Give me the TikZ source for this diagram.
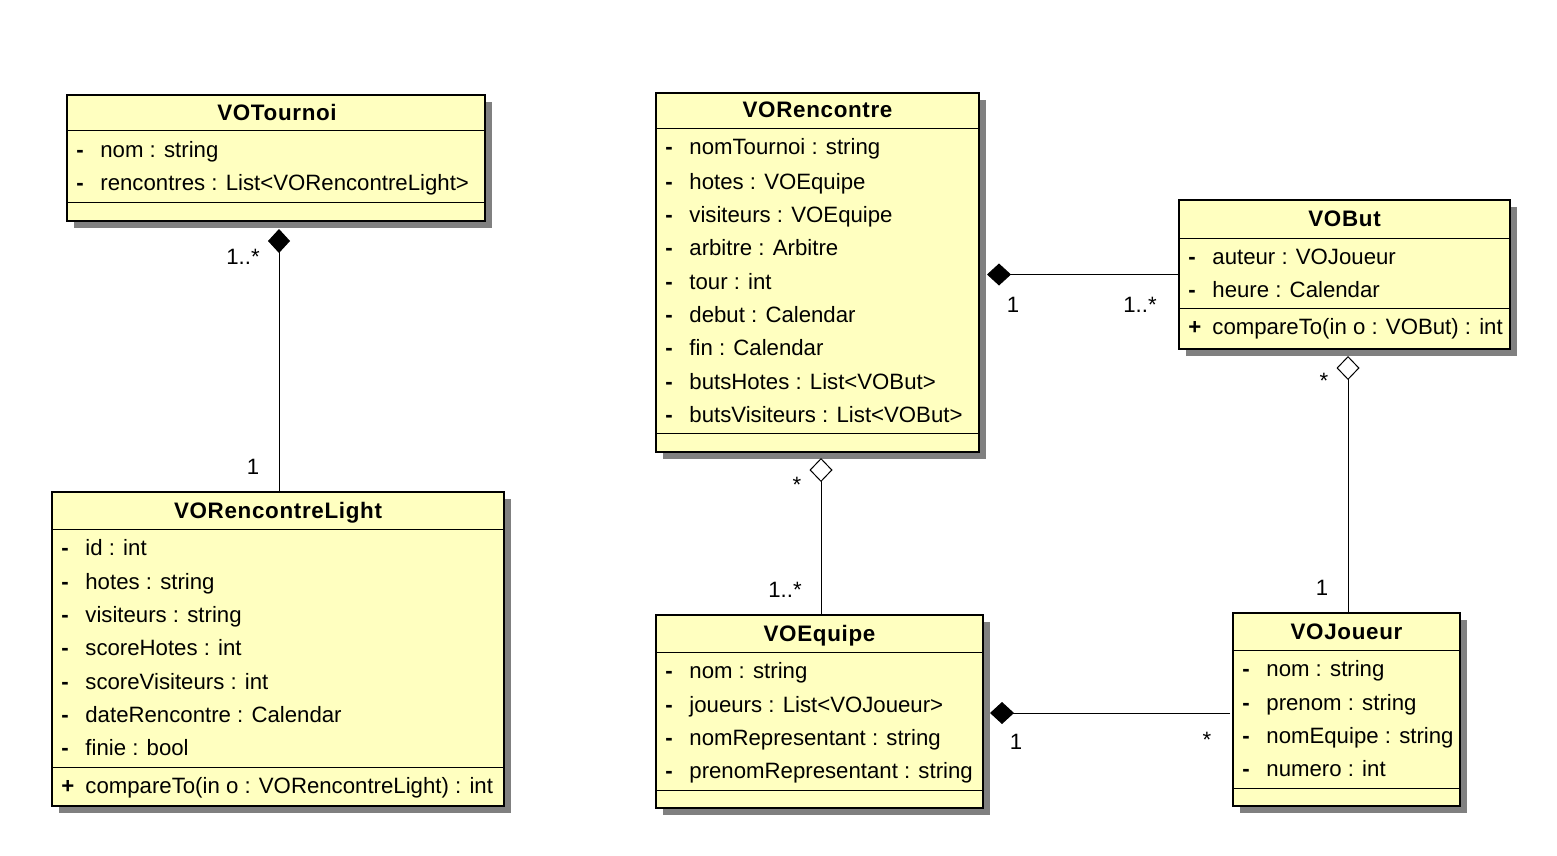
\documentclass[tikz,border=0pt]{standalone}
\usepackage{fontspec}
\setmainfont{Liberation Sans}
\usetikzlibrary{shadows,arrows.meta}
\definecolor{classfill}{RGB}{255,255,192}
\definecolor{shadowgray}{RGB}{128,128,128}
\tikzset{x=0.5pt,y=-0.5pt,
 classbox/.style={draw=black, line width=0.7pt, fill=classfill, anchor=north west, inner sep=0pt, outer sep=0pt,
   drop shadow={shadow xshift=3.5pt, shadow yshift=-3.5pt, fill=shadowgray, opacity=1}},
 ctitle/.style={font=\fontsize{11.2}{13}\selectfont\bfseries\addfontfeature{LetterSpace=3}, inner sep=0pt, anchor=base},
 attr/.style={font=\fontsize{11.1}{13}\selectfont, anchor=base west, inner sep=0pt},
 vis/.style={font=\fontsize{11.1}{13}\selectfont\bfseries, anchor=base west, inner sep=0pt},
 mult/.style={font=\fontsize{11.1}{13}\selectfont, inner sep=0pt},
 sepline/.style={line width=0.5pt},
 comp/.style={line width=0.5pt, -{Diamond[fill=black, length=12pt, width=11pt]}},
 aggr/.style={line width=0.5pt, -{Diamond[open, fill=white, length=12pt, width=11.5pt]}}
}
\newcommand\umlattr[5]{%
  \node[vis] (#1m) at (#2+9,#3+7) {#4};
  \node[attr] (#1) at (#2+33,#3+7) {#5};}
\begin{document}
\begin{tikzpicture}
\useasboundingbox (0,0) rectangle (1557,856);

% VOTournoi
\node[classbox, minimum width=209pt, minimum height=63pt] (T) at (67,95) {};
\node[ctitle] (Tt) at (277,120) {VOTournoi};
\draw[sepline] (67,131) -- (485,131);
\umlattr{Ta}{67}{150}{-}{nom : string}
\umlattr{Tb}{67}{184}{-}{rencontres : List<VORencontreLight>}
\draw[sepline] (67,202) -- (485,202);

% VORencontreLight
\node[classbox, minimum width=226pt, minimum height=157pt] (L) at (52,492) {};
\node[ctitle] (Lt) at (278,518) {VORencontreLight};
\draw[sepline] (52,529) -- (504,529);
\umlattr{La}{52}{548}{-}{id : int}
\umlattr{Lb}{52}{582}{-}{hotes : string}
\umlattr{Lc}{52}{615}{-}{visiteurs : string}
\umlattr{Ld}{52}{648}{-}{scoreHotes : int}
\umlattr{Le}{52}{682}{-}{scoreVisiteurs : int}
\umlattr{Lf}{52}{715}{-}{dateRencontre : Calendar}
\umlattr{Lg}{52}{748}{-}{finie : bool}
\draw[sepline] (52,767) -- (504,767);
\umlattr{Lh}{52}{786}{+}{compareTo(in o : VORencontreLight) : int}

% VORencontre
\node[classbox, minimum width=161.5pt, minimum height=179.5pt] (R) at (656,93) {};
\node[ctitle] (Rt) at (817.5,118) {VORencontre};
\draw[sepline] (656,129) -- (979,129);
\umlattr{Ra}{656}{148}{-}{nomTournoi : string}
\umlattr{Rb}{656}{182}{-}{hotes : VOEquipe}
\umlattr{Rc}{656}{215}{-}{visiteurs : VOEquipe}
\umlattr{Rd}{656}{248}{-}{arbitre : Arbitre}
\umlattr{Re}{656}{282}{-}{tour : int}
\umlattr{Rf}{656}{315}{-}{debut : Calendar}
\umlattr{Rg}{656}{348}{-}{fin : Calendar}
\umlattr{Rh}{656}{382}{-}{butsHotes : List<VOBut>}
\umlattr{Ri}{656}{415}{-}{butsVisiteurs : List<VOBut>}
\draw[sepline] (656,433) -- (979,433);

% VOBut
\node[classbox, minimum width=165.5pt, minimum height=74.5pt] (B) at (1179,200) {};
\node[ctitle] (Bt) at (1344.5,226) {VOBut};
\draw[sepline] (1179,238) -- (1510,238);
\umlattr{Ba}{1179}{257}{-}{auteur : VOJoueur}
\umlattr{Bb}{1179}{290}{-}{heure : Calendar}
\draw[sepline] (1179,308) -- (1510,308);
\umlattr{Bc}{1179}{327}{+}{compareTo(in o : VOBut) : int}

% VOEquipe
\node[classbox, minimum width=163.5pt, minimum height=96.5pt] (E) at (656,615) {};
\node[ctitle] (Et) at (819.5,641) {VOEquipe};
\draw[sepline] (656,652) -- (983,652);
\umlattr{Ea}{656}{671}{-}{nom : string}
\umlattr{Eb}{656}{705}{-}{joueurs : List<VOJoueur>}
\umlattr{Ec}{656}{738}{-}{nomRepresentant : string}
\umlattr{Ed}{656}{771}{-}{prenomRepresentant : string}
\draw[sepline] (656,790) -- (983,790);

% VOJoueur
\node[classbox, minimum width=113.5pt, minimum height=96.5pt] (J) at (1233,613) {};
\node[ctitle] (Jt) at (1346.5,639) {VOJoueur};
\draw[sepline] (1233,650) -- (1460,650);
\umlattr{Ja}{1233}{669}{-}{nom : string}
\umlattr{Jb}{1233}{703}{-}{prenom : string}
\umlattr{Jc}{1233}{736}{-}{nomEquipe : string}
\umlattr{Jd}{1233}{769}{-}{numero : int}
\draw[sepline] (1233,788) -- (1460,788);

% connectors
\draw[comp] ([xshift=0.5pt]L.north) -- ([xshift=0.5pt,yshift=-4pt]L.north |- T.south);
\draw[comp] (B.west) -- ([xshift=4pt]B.west -| R.east);
\draw[aggr] ([xshift=0.75pt]E.north) -- ([xshift=0.75pt,yshift=-3pt]E.north |- R.south);
\draw[aggr] ([xshift=0.75pt]J.north) -- ([xshift=0.75pt,yshift=-3.5pt]J.north |- B.south);
\draw[comp] ([xshift=-1.5pt,yshift=-1.75pt]J.west) -- ([xshift=3.5pt,yshift=-1.75pt]J.west -| E.east);

% multiplicities
\node[mult] (m1) at (243,257) {1..*};
\node[mult] (m2) at (253,467) {1};
\node[mult] (m3) at (1013,305) {1};
\node[mult] (m4) at (1140,305) {1..*};
\node[mult] (m5) at (797,485) {*};
\node[mult] (m6) at (785,590) {1..*};
\node[mult] (m7) at (1324,381) {*};
\node[mult] (m8) at (1322,588) {1};
\node[mult] (m9) at (1016,742) {1};
\node[mult] (m10) at (1207,740) {*};
\end{tikzpicture}
\end{document}
